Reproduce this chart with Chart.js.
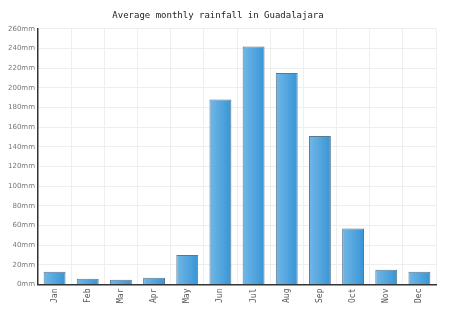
<!DOCTYPE html>
<html>
<head>
<meta charset="utf-8">
<script src="https://cdn.jsdelivr.net/npm/chart.js@4"></script>
<style>
  html, body { margin: 0; padding: 0; background: #fff; }
  #wrap { width: 474px; height: 322px; }
</style>
</head>
<body>
<div id="wrap"><canvas id="rainChart"></canvas></div>
<script>
// Monthly rainfall, mm
const months = ["Jan", "Feb", "Mar", "Apr", "May", "Jun", "Jul", "Aug", "Sep", "Oct", "Nov", "Dec"];
const rainfall = [13, 6, 5, 7, 30, 188, 242, 215, 151, 57, 15, 13];
const yTicks = [0, 20, 40, 60, 80, 100, 120, 140, 160, 180, 200, 220, 240, 260];

// horizontal gradient per bar, lighter on the left
function barGradient(context) {
  const chart = context.chart;
  const xScale = chart.scales.x;
  if (!xScale || context.dataIndex === undefined) return "#4fa3dd";
  const cx = xScale.getPixelForValue(context.dataIndex);
  if (!isFinite(cx)) return "#4fa3dd";
  const half = 12;
  const g = chart.ctx.createLinearGradient(cx - half, 0, cx + half, 0);
  g.addColorStop(0, "#74b9e8");
  g.addColorStop(1, "#3593d4");
  return g;
}

document.addEventListener("DOMContentLoaded", function () {
  const rainData = {
    labels: months,
    datasets: [
      {
        label: "Rainfall",
        data: rainfall,
        backgroundColor: barGradient,
        borderColor: "#5a7890",
        borderWidth: 1,
        barPercentage: 0.66,
        categoryPercentage: 1,
      },
    ],
  };

  const rainConfig = {
    responsive: true,
    maintainAspectRatio: false,
    animation: false,
    layout: { padding: { left: 0, right: 38, top: 6, bottom: 15 } },
    plugins: {
      legend: { display: false },
      tooltip: { enabled: false },
      title: {
        display: true,
        text: "Average monthly rainfall in Guadalajara",
        color: "#222",
        font: { family: "DejaVu Sans Mono", size: 9, weight: "normal" },
        padding: { top: 4, bottom: 8 },
      },
    },
    scales: {
      x: {
        grid: { color: "#eeeeee", drawTicks: false, offset: true },
        border: { color: "#333", width: 1.5 },
        ticks: {
          color: "#555",
          font: { family: "DejaVu Sans Mono", size: 8 },
          maxRotation: 90,
          minRotation: 90,
          padding: 4,
        },
      },
      y: {
        min: 0,
        max: 260,
        afterBuildTicks: function (axis) {
          axis.ticks = yTicks.map(function (v) { return { value: v }; });
        },
        afterFit: function (axis) { axis.width = 38; },
        grid: { color: "#eeeeee", drawTicks: false },
        border: { color: "#333", width: 1.5 },
        ticks: {
          color: "#777",
          font: { family: "DejaVu Sans", size: 7 },
          padding: 3,
          callback: function (v) { return v + "mm"; },
        },
      },
    },
  };

  const rainChart = new Chart(document.getElementById("rainChart"), {
    type: "bar",
    data: rainData,
    options: rainConfig,
  });
  // second pass so the gradients see the laid-out scale
  rainChart.update();
});
</script>
</body>
</html>
